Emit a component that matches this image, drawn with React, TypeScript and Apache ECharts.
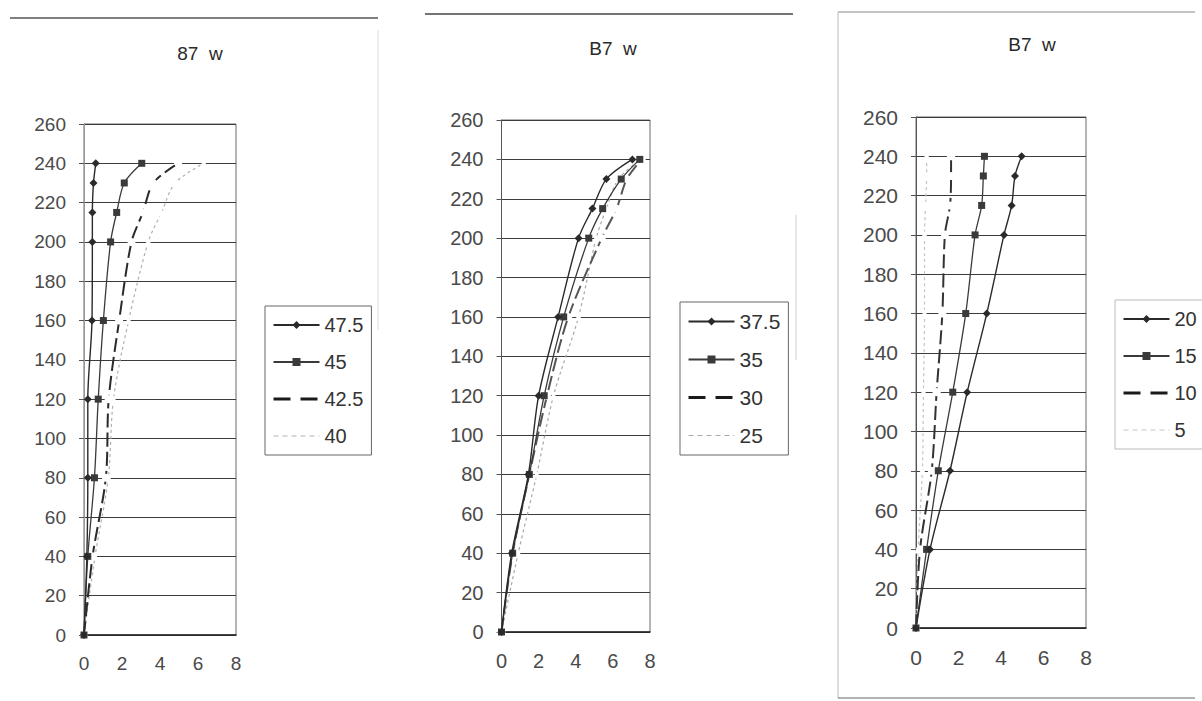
import { useEffect, useRef } from "react";
import * as echarts from "echarts";

// shared y levels for every series
const yLevels = [0, 40, 80, 120, 160, 200, 215, 230, 240];

// chart 1
const c1Names = ["47.5", "45", "42.5", "40"];
const c1_475 = [0, 0.15, 0.2, 0.2, 0.42, 0.44, 0.44, 0.5, 0.62];
const c1_45 = [0, 0.2, 0.55, 0.75, 1.02, 1.4, 1.72, 2.12, 3.04];
const c1_425 = [0, 0.45, 1.15, 1.3, 1.85, 2.5, 3.1, 3.65, 4.95];
const c1_40 = [0, 0.58, 1.28, 1.55, 2.35, 3.38, 4.08, 4.8, 6.3];

// chart 2
const c2Names = ["37.5", "35", "30", "25"];
const c2_375 = [0, 0.55, 1.45, 2.0, 3.05, 4.15, 4.9, 5.65, 7.05];
const c2_35 = [0, 0.6, 1.5, 2.3, 3.35, 4.7, 5.45, 6.45, 7.45];
const c2_30 = [0, 0.6, 1.5, 2.45, 3.6, 5.4, 6.2, 6.75, 7.55];
const c2_25 = [0, 0.9, 1.9, 2.8, 4.15, 5.1, 5.65, 6.3, 7.5];

// chart 3
const c3Names = ["20", "15", "10", "5"];
const c3_20 = [0, 0.66, 1.6, 2.41, 3.33, 4.14, 4.5, 4.66, 4.97];
const c3_15 = [0, 0.5, 1.05, 1.73, 2.34, 2.78, 3.09, 3.17, 3.22];
const c3_10 = [0, 0.19, 0.74, 0.97, 1.24, 1.36, 1.6, 1.65, 1.65];
const c3_5 = [0, 0.1, 0.3, 0.35, 0.4, 0.4, 0.45, 0.5, 0.5];

const titles = ["87  w", "B7  w", "B7  w"];
const xTicks = { min: 0, max: 8, interval: 2 };
const yTicks = { min: 0, max: 260, interval: 20 };

const FONT = "'Liberation Sans', Arial, sans-serif";

const panels = [
  {
    grid: { left: 84, top: 124, width: 152, height: 511 },
    title: { x: 195, y: 39 },
    fs: 19,
    lfs: 20,
    legend: { left: 265, top: 306 },
    names: c1Names,
    xs: [c1_475, c1_45, c1_425, c1_40],
    light: "#b0b0b0",
    dash: "#2a2a2a",
    axis: "#999",
  },
  {
    grid: { left: 501.5, top: 120, width: 148.5, height: 512 },
    title: { x: 608, y: 34 },
    fs: 20,
    lfs: 21,
    legend: { left: 680, top: 302 },
    names: c2Names,
    xs: [c2_375, c2_35, c2_30, c2_25],
    light: "#a8a8a8",
    dash: "#555",
    axis: "#555",
  },
  {
    grid: { left: 916, top: 117, width: 170, height: 511 },
    title: { x: 1027, y: 30 },
    fs: 21,
    lfs: 20,
    legend: { left: 1115, top: 300 },
    names: c3Names,
    xs: [c3_20, c3_15, c3_10, c3_5],
    light: "#c4c4c4",
    dash: "#333",
    axis: "#555",
  },
];

function buildOption() {
  const grid: any[] = [];
  const xAxis: any[] = [];
  const yAxis: any[] = [];
  const title: any[] = [];
  const legend: any[] = [];
  const series: any[] = [];

  panels.forEach((p, i) => {
    grid.push({ ...p.grid, show: true, borderColor: "#6a6a6a", borderWidth: 1, backgroundColor: "transparent" });
    title.push({
      text: titles[i],
      left: p.title.x,
      top: p.title.y,
      textAlign: "center",
      textStyle: { fontFamily: FONT, fontSize: 19, fontWeight: "normal", color: "#2a2a2a" },
    });
    xAxis.push({
      type: "value",
      gridIndex: i,
      ...xTicks,
      axisLine: { show: true, onZero: false, lineStyle: { color: "#222", width: 1.6 } },
      axisTick: { show: false },
      splitLine: { show: false },
      axisLabel: { fontFamily: FONT, fontSize: p.fs, color: "#4a4a4a", margin: 19 },
    });
    yAxis.push({
      type: "value",
      gridIndex: i,
      ...yTicks,
      axisLine: { show: true, lineStyle: { color: p.axis, width: 1 } },
      axisTick: { show: true, length: 5, lineStyle: { color: "#555" } },
      splitLine: { show: true, lineStyle: { color: "#3c3c3c", width: 1 } },
      axisLabel: { fontFamily: FONT, fontSize: p.fs, color: "#4a4a4a", margin: 18 },
    });
    legend.push({
      orient: "vertical",
      left: p.legend.left,
      top: p.legend.top,
      padding: [9, 8, 9, 7],
      itemWidth: 46,
      itemHeight: 10,
      itemGap: 17,
      borderColor: i === 2 ? "#bbb" : "#666",
      borderWidth: 1,
      backgroundColor: "#fff",
      data: p.names.map((name, k) =>
        k === 2
          ? { name, itemStyle: { opacity: 0 }, lineStyle: { type: [17, 10], width: 3, color: "#1a1a1a" } }
          : k === 3
          ? { name, itemStyle: { opacity: 0 }, lineStyle: { type: [5, 4], width: 1, color: p.light } }
          : { name }
      ),
      textStyle: { fontFamily: FONT, fontSize: p.lfs, lineHeight: 20, color: "#333" },
    });

    const styles = [
      { symbol: "diamond", symbolSize: 8, color: "#2a2a2a", line: { color: "#2a2a2a", width: 1.4, type: "solid" } },
      { symbol: "rect", symbolSize: 7, color: "#3a3a3a", line: { color: "#3a3a3a", width: 1.3, type: "solid" } },
      { symbol: "circle", symbolSize: 8, color: "#ffffff", line: { color: p.dash, width: 2, type: [14, 5] } },
      { symbol: "triangle", symbolSize: 8, color: "#ffffff", line: { color: p.light, width: 1.2, type: [3, 3] } },
    ];

    p.names.forEach((name, k) => {
      const st = styles[k];
      series.push({
        type: "line",
        name,
        xAxisIndex: i,
        yAxisIndex: i,
        smooth: 0.3,
        symbol: st.symbol,
        symbolSize: st.symbolSize,
        showSymbol: true,
        z: 5 - k,
        itemStyle: { color: st.color, borderWidth: 0 },
        lineStyle: st.line,
        data: yLevels.map((y, j) => [p.xs[k][j], y]),
      });
    });
  });

  const graphic = [
    { type: "line", shape: { x1: 10, y1: 18, x2: 378, y2: 18 }, style: { stroke: "#555", lineWidth: 1.5 } },
    { type: "line", shape: { x1: 378, y1: 30, x2: 378, y2: 330 }, style: { stroke: "#eee", lineWidth: 2 } },
    { type: "line", shape: { x1: 425, y1: 14, x2: 793, y2: 14 }, style: { stroke: "#444", lineWidth: 1.5 } },
    { type: "line", shape: { x1: 796, y1: 215, x2: 796, y2: 360 }, style: { stroke: "#ccc", lineWidth: 1 } },
    { type: "line", shape: { x1: 838, y1: 12, x2: 1195, y2: 12 }, style: { stroke: "#888", lineWidth: 1 } },
    { type: "line", shape: { x1: 838, y1: 12, x2: 838, y2: 698 }, style: { stroke: "#bbb", lineWidth: 1 } },
    { type: "line", shape: { x1: 838, y1: 698, x2: 1195, y2: 698 }, style: { stroke: "#666", lineWidth: 1 } },
  ];

  return { animation: false, backgroundColor: "#fff", grid, xAxis, yAxis, title, legend, series, graphic };
}

export default function App() {
  const ref = useRef<HTMLDivElement>(null);
  useEffect(() => {
    const chart = echarts.init(ref.current!, null, { renderer: "svg" });
    chart.setOption(buildOption() as any);
    return () => chart.dispose();
  }, []);
  return (
    <div
      ref={ref}
      style={{ position: "fixed", left: 0, top: 0, width: 1202, height: 701, background: "#fff" }}
    />
  );
}
